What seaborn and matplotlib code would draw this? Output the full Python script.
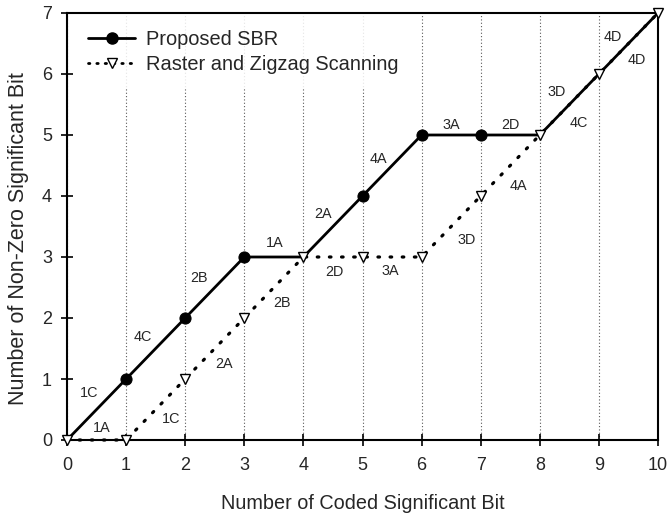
import numpy as np
import pandas as pd
import matplotlib
matplotlib.use("Agg")
import matplotlib.pyplot as plt
from matplotlib.lines import Line2D
import seaborn as sns

# ---- data ----
coded_bits = [0, 1, 2, 3, 4, 5, 6, 7, 8, 9, 10]
sbr_nonzero = [0, 1, 2, 3, 3, 4, 5, 5, 5, 6, 7]
raster_nonzero = [0, 0, 1, 2, 3, 3, 3, 4, 5, 6, 7]
sbr_seg_labels = ["1C", "4C", "2B", "1A", "2A", "4A", "3A", "2D", "3D", "4D"]
raster_seg_labels = ["1A", "1C", "2A", "2B", "2D", "3A", "3D", "4A", "4C", "4D"]
series_names = ["Proposed SBR", "Raster and Zigzag Scanning"]
x_ticks = list(range(0, 11))
y_ticks = list(range(0, 8))

# ---- label offsets (points) relative to segment midpoints: styling only ----
sbr_offsets = [(-5, 12), (-9, 8), (-11, 7), (1, 10), (-7, 9), (-10, 5), (0, 7), (0, 7), (-9, 9), (-11, 5)]
raster_offsets = [(4, 9), (11, -7), (7, -11), (6, -11), (1, -11), (-1, -10), (11, -10), (6, -15), (7, -13), (6, -12)]

sns.set_style("ticks")
plt.rcParams["font.family"] = ["Liberation Sans", "DejaVu Sans"]

fig = plt.figure(figsize=(6.68, 5.16), dpi=100)
ax = fig.add_axes([67 / 668, 1 - 440 / 516, (658 - 67) / 668, (440 - 13) / 516])

df = pd.DataFrame({"x": coded_bits, "sbr": sbr_nonzero, "raster": raster_nonzero})
only_sbr = [s != r for s, r in zip(sbr_nonzero, raster_nonzero)]

sns.lineplot(data=df, x="x", y="sbr", ax=ax, color="black", linewidth=2.0,
             marker="o", markersize=8, markeredgecolor="black", markerfacecolor="black",
             markevery=only_sbr, zorder=3, clip_on=False)
sns.lineplot(data=df, x="x", y="raster", ax=ax, color="black", linewidth=2.3,
             linestyle=(0, (0.5, 3.3)), dash_capstyle="round",
             marker="v", markersize=7.8, markeredgecolor="black", markerfacecolor="white",
             markeredgewidth=1.0, zorder=4, clip_on=False)

# segment labels
for i, lab in enumerate(sbr_seg_labels):
    mx = (coded_bits[i] + coded_bits[i + 1]) / 2
    my = (sbr_nonzero[i] + sbr_nonzero[i + 1]) / 2
    ax.annotate(lab, (mx, my), xytext=sbr_offsets[i], textcoords="offset points",
                ha="center", va="center", fontsize=10.4)
for i, lab in enumerate(raster_seg_labels):
    mx = (coded_bits[i] + coded_bits[i + 1]) / 2
    my = (raster_nonzero[i] + raster_nonzero[i + 1]) / 2
    ax.annotate(lab, (mx, my), xytext=raster_offsets[i], textcoords="offset points",
                ha="center", va="center", fontsize=10.4)

ax.set_xlim(0, 10)
ax.set_ylim(0, 7)
ax.set_xticks(x_ticks)
ax.set_yticks(y_ticks)
ax.tick_params(direction="inout", length=8, width=1.2, labelsize=13, color="black")
ax.tick_params(axis="x", pad=8.5)
ax.tick_params(axis="y", pad=6.8)
for sp in ax.spines.values():
    sp.set_visible(True)
    sp.set_linewidth(1.5)
    sp.set_color("black")

# vertical dotted grid
ax.xaxis.grid(True, linestyle=(0, (1, 2)), color="0.35", linewidth=0.8)
ax.set_axisbelow(True)

ax.set_xlabel("Number of Coded Significant Bit", fontsize=14.3)
ax.set_ylabel("Number of Non-Zero Significant Bit", fontsize=15.5)
ax.xaxis.set_label_coords(0.5, -0.126)
ax.yaxis.set_label_coords(-0.064, 0.471)

handles = [
    Line2D([], [], color="black", linewidth=2.0, marker="o", markersize=8,
           markerfacecolor="black"),
    Line2D([], [], color="black", linewidth=2.0, linestyle=(0, (0.5, 2.5)), dash_capstyle="round",
           marker="v", markersize=7.8, markerfacecolor="white", markeredgewidth=1.0),
]
leg = ax.legend(handles, series_names, loc="upper left", bbox_to_anchor=(0.012, 0.993),
                borderaxespad=0, borderpad=0.7, fontsize=14.4, handlelength=2.35,
                handletextpad=0.55, labelspacing=0.3, frameon=True, fancybox=False)
leg.get_frame().set_facecolor("white")
leg.get_frame().set_edgecolor("none")
leg.get_frame().set_alpha(0.85)
leg.set_zorder(2.5)

fig.savefig("out.png", dpi=100)
